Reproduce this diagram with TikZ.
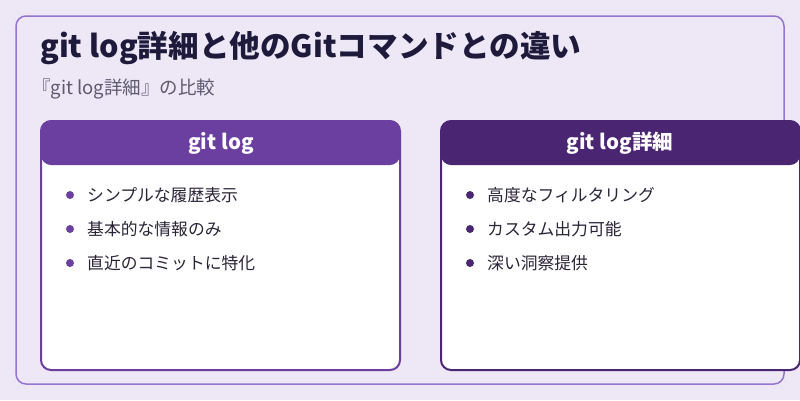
\documentclass[tikz,border=0pt]{standalone}
\usepackage{fontspec}
\setmainfont{Noto Sans CJK JP}
\definecolor{bg}{HTML}{EDE7F6}
\definecolor{outer}{HTML}{9575CD}
\definecolor{titlec}{HTML}{1E1A3C}
\definecolor{subc}{HTML}{5E5A70}
\definecolor{lc}{HTML}{6B3FA0}
\definecolor{rc}{HTML}{4A2572}
\definecolor{txt}{HTML}{2A2438}
\tikzset{
 card/.style={draw=#1,line width=2pt,fill=white,rounded corners=10pt},
 bul/.style={circle,fill=#1,inner sep=0pt,minimum size=8pt},
 item/.style={anchor=west,text=txt,font=\fontsize{16.8}{18}\selectfont,inner sep=0pt},
 head/.style={text=white,font=\fontsize{20.5}{22}\selectfont\bfseries}
}
\begin{document}
\begin{tikzpicture}[x=1pt,y=-1pt]
\useasboundingbox (0,0) rectangle (800,400);
\fill[bg] (0,0) rectangle (800,400);
\draw[outer,line width=1.5pt,rounded corners=10pt] (16,16) rectangle (784,384);
\node[anchor=west,text=titlec,font=\fontsize{30.6}{33}\selectfont\bfseries,inner sep=0pt] (title) at (40,48) {git log詳細と他のGitコマンドとの違い};
\node[anchor=west,text=subc,font=\fontsize{18.5}{20}\selectfont,inner sep=0pt] (sub) at (32,89) {『git log詳細』の比較};
% left card
\draw[card=lc] (41,121) rectangle (400,370);
\fill[lc,rounded corners=10pt] (41,165) -- (41,121) -- (400,121) -- (400,165) -- cycle;
\node[head] (lh) at (221,143) {git log};
\foreach \t/\y [count=\i] in {シンプルな履歴表示/195,基本的な情報のみ/229,直近のコミットに特化/263}{
 \node[bul=lc] (lb\i) at (70,\y) {};
 \node[item] (lt\i) at (87,\y) {\t};
}
% right card
\draw[card=rc] (441,121) rectangle (800,370);
\fill[rc,rounded corners=10pt] (441,165) -- (441,121) -- (800,121) -- (800,165) -- cycle;
\node[head] (rh) at (620,143) {git log詳細};
\foreach \t/\y [count=\i] in {高度なフィルタリング/195,カスタム出力可能/229,深い洞察提供/263}{
 \node[bul=rc] (rb\i) at (470,\y) {};
 \node[item] (rt\i) at (487,\y) {\t};
}
\end{tikzpicture}
\end{document}
